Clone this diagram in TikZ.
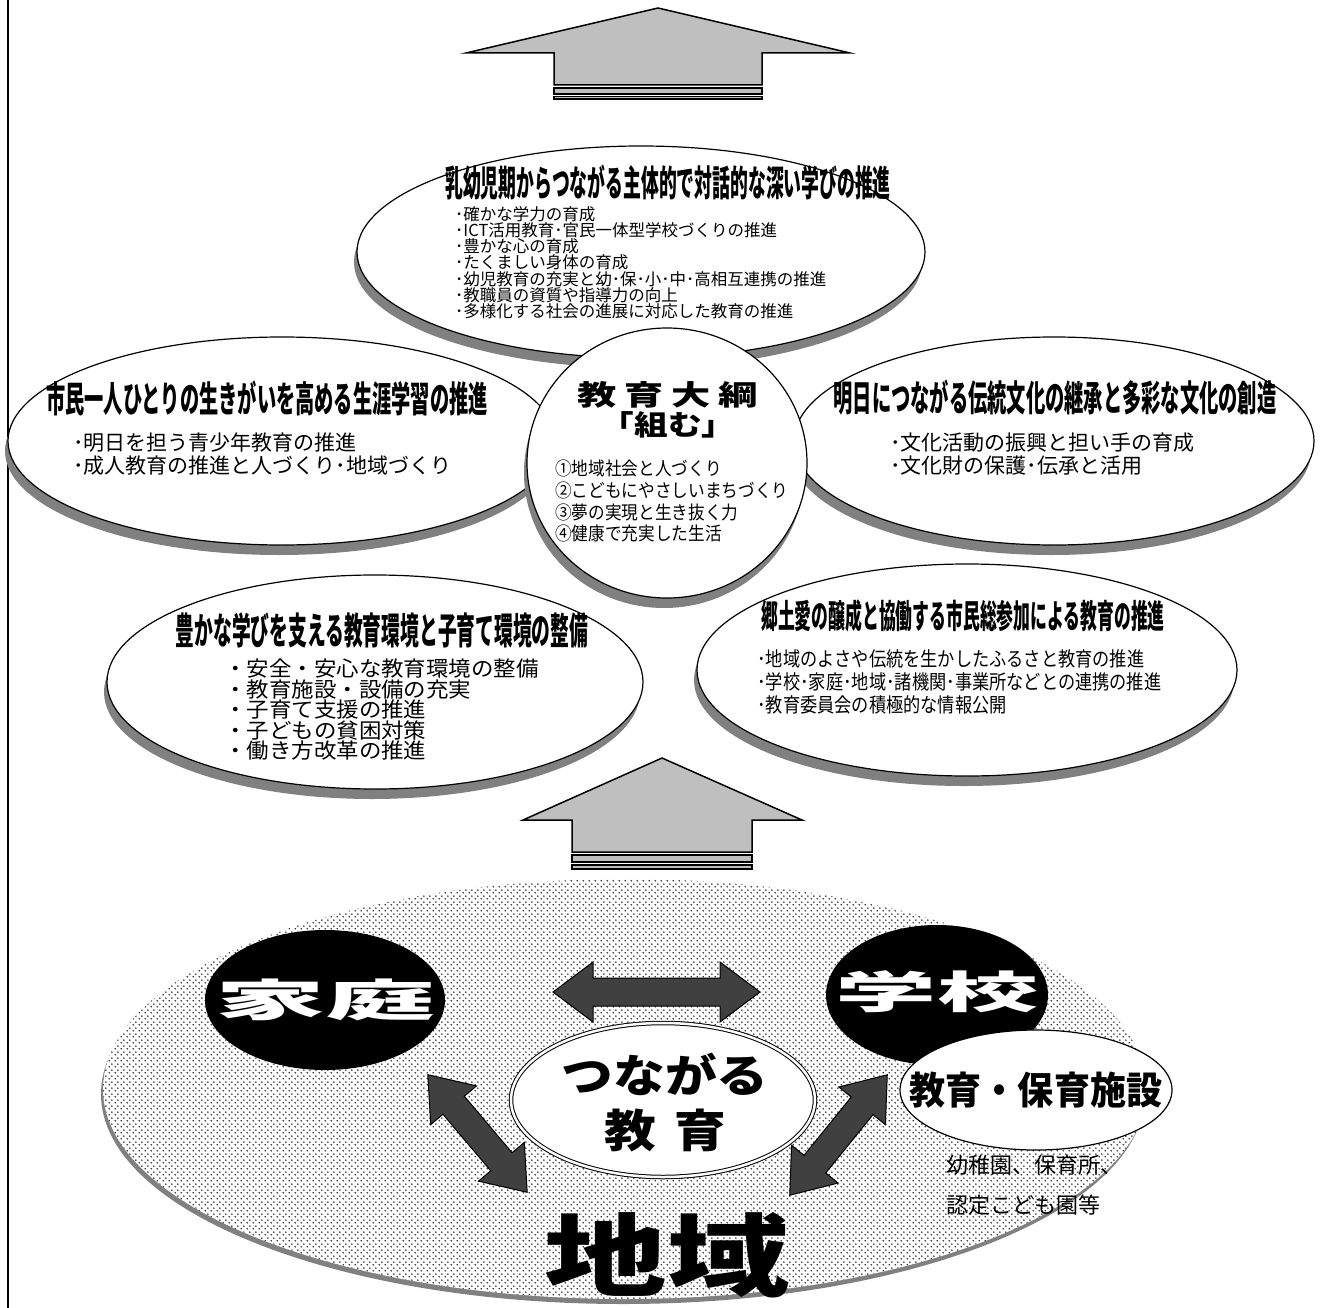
\documentclass[tikz,border=0pt]{standalone}
\usepackage{fontspec}
\usepackage{graphicx}
\setmainfont{Noto Sans CJK JP}
\usetikzlibrary{shapes.geometric,shadows,patterns.meta}
\definecolor{shgray}{gray}{0.5}
\definecolor{arrgray}{gray}{0.75}
\definecolor{darkarr}{gray}{0.25}
\definecolor{dotcol}{gray}{0.2}
\tikzdeclarepattern{
  name=dotgrid,
  type=uncolored,
  bounding box={(0pt,0pt) and (6pt,6pt)},
  tile size={(6pt,6pt)},
  code={
    \pgfpathcircle{\pgfpoint{1.5pt}{1.5pt}}{1.05pt}
    \pgfpathcircle{\pgfpoint{4.5pt}{4.5pt}}{1.05pt}
    \pgfusepath{fill}
  }
}
\newcommand\fatdbl[4]{%
  \begin{scope}[shift={(#1,#2)},rotate=#3]
    \draw[dblarr] (-#4,0) -- (-#4+40,-30) -- (-#4+40,-14) -- (#4-40,-14) -- (#4-40,-30) -- (#4,0) -- (#4-40,30) -- (#4-40,14) -- (-#4+40,14) -- (-#4+40,30) -- cycle;
  \end{scope}}
\newcommand\xs[2]{\scalebox{#1}[1]{#2}}
\begin{document}
\begin{tikzpicture}[x=1pt,y=-1pt,
  bub/.style={ellipse, draw=black, line width=1.2pt, fill=white, inner sep=0pt,
    drop shadow={shadow xshift=-3pt, shadow yshift=-10pt, fill=shgray, opacity=1}},
  bigarr/.style={draw=black, line width=1.5pt, fill=arrgray, line join=miter},
  stripe/.style={draw=black, line width=1.2pt, fill=arrgray},
  dblarr/.style={draw=black, line width=1pt, fill=darkarr, line join=miter},
  ttl/.style={inner sep=0pt, font=\bfseries\fontsize{36}{36}\selectfont},
  blt/.style={inner sep=0pt, anchor=west},
]
\useasboundingbox (0,0) rectangle (1322,1308);
\fill[white] (0,0) rectangle (1322,1308);
\draw[line width=2pt] (8,0) -- (8,1308);

% top arrow
\draw[bigarr] (658,8) -- (850,53) -- (762,53) -- (762,85) -- (554,85) -- (554,53) -- (466,53) -- cycle;
\draw[stripe] (554,88) rectangle (762,94);
\draw[stripe] (554,96.5) rectangle (762,99);

% ellipses
\node[bub, minimum width=568pt, minimum height=212pt] (top) at (641,252) {};
\node[bub, minimum width=548pt, minimum height=208pt] (left) at (282,441) {};
\node[bub, minimum width=520pt, minimum height=208pt] (right) at (1054,441) {};
\node[bub, minimum width=536pt, minimum height=214pt] (bl) at (375,682) {};
\node[bub, minimum width=540pt, minimum height=212pt] (br) at (967,670) {};
\node[bub, minimum width=280pt, minimum height=270pt] (ctr) at (667,463) {};

% top ellipse text
\node[ttl] (ttop) at (668,183) {\xs{0.495}{乳幼児期からつながる主体的で対話的な深い学びの推進}};
\begin{scope}[every node/.style={blt, font=\fontsize{16.5}{16.5}\selectfont}]
\node (tb1) at (455,214) {･確かな学力の育成};
\node (tb2) at (455,230.2) {･ICT活用教育･官民一体型学校づくりの推進};
\node (tb3) at (455,246.4) {･豊かな心の育成};
\node (tb4) at (455,262.6) {･たくましい身体の育成};
\node (tb5) at (455,278.8) {･幼児教育の充実と幼･保･小･中･高相互連携の推進};
\node (tb6) at (455,295) {･教職員の資質や指導力の向上};
\node (tb7) at (455,311.2) {･多様化する社会の進展に対応した教育の推進};
\end{scope}

% left ellipse text
\node[ttl] (tleft) at (267,398) {\xs{0.534}{市民一人ひとりの生きがいを高める生涯学習の推進}};
\begin{scope}[every node/.style={blt, font=\fontsize{21}{21}\selectfont}]
\node (lb1) at (73,443) {･明日を担う青少年教育の推進};
\node (lb2) at (73,466) {･成人教育の推進と人づくり･地域づくり};
\end{scope}

% right ellipse text
\node[ttl] (tright) at (1055,398) {\xs{0.535}{明日につながる伝統文化の継承と多彩な文化の創造}};
\begin{scope}[every node/.style={blt, font=\fontsize{21}{21}\selectfont}]
\node (rb1) at (890,443) {･文化活動の振興と担い手の育成};
\node (rb2) at (890,466) {･文化財の保護･伝承と活用};
\end{scope}

% bottom-left text
\node[ttl, font=\bfseries\fontsize{37}{37}\selectfont] (tbl) at (382,630) {\xs{0.507}{豊かな学びを支える教育環境と子育て環境の整備}};
\begin{scope}[every node/.style={blt, font=\fontsize{21}{21}\selectfont}]
\node (bl1) at (224,669) {\xs{1.07}{・安全・安心な教育環境の整備}};
\node (bl2) at (224,689.5) {\xs{1.07}{・教育施設・設備の充実}};
\node (bl3) at (224,710) {\xs{1.07}{・子育て支援の推進}};
\node (bl4) at (224,730.5) {\xs{1.07}{・子どもの貧困対策}};
\node (bl5) at (224,751) {\xs{1.07}{・働き方改革の推進}};
\end{scope}

% bottom-right text
\node[ttl, font=\bfseries\fontsize{33}{33}\selectfont] (tbr) at (963,616) {\xs{0.51}{郷土愛の醸成と協働する市民総参加による教育の推進}};
\begin{scope}[every node/.style={blt, font=\fontsize{20}{20}\selectfont}]
\node (br1) at (757,659) {\xs{0.86}{･地域のよさや伝統を生かしたふるさと教育の推進}};
\node (br2) at (757,682) {\xs{0.86}{･学校･家庭･地域･諸機関･事業所などとの連携の推進}};
\node (br3) at (757,705) {\xs{0.86}{･教育委員会の積極的な情報公開}};
\end{scope}

% center text
\node[inner sep=0pt, font=\bfseries\fontsize{28}{28}\selectfont] (c1) at (668,395) {\xs{1.4}{教\hspace{0.2em}育\hspace{0.2em}大\hspace{0.2em}綱}};
\node[inner sep=0pt, font=\bfseries\fontsize{28}{28}\selectfont] (c2) at (668,425) {\xs{1.2}{「組む」}};
\begin{scope}[every node/.style={blt, font=\fontsize{18.5}{18.5}\selectfont}]
\node (ci1) at (555,468) {\xs{0.9}{①地域社会と人づくり}};
\node (ci2) at (555,490) {\xs{0.9}{②こどもにやさしいまちづくり}};
\node (ci3) at (555,512) {\xs{0.9}{③夢の実現と生き抜く力}};
\node (ci4) at (555,533) {\xs{0.9}{④健康で充実した生活}};
\end{scope}

% bottom arrow
\draw[bigarr] (662,758) -- (802,820) -- (752,820) -- (752,852) -- (572,852) -- (572,820) -- (523,820) -- cycle;
\draw[stripe] (572,855) rectangle (752,862);
\draw[stripe] (572,865) rectangle (752,869);

% bottom region
\node[ellipse, fill=white, minimum width=1044pt, minimum height=420pt, inner sep=0pt,
  drop shadow={shadow xshift=-2pt, shadow yshift=-5pt, fill=shgray, opacity=1}] (chiiki) at (625,1089) {};
\fill[pattern=dotgrid, pattern color=dotcol] (chiiki.center) ellipse [x radius=522pt, y radius=210pt];

\node[ellipse, fill=black, minimum width=240pt, minimum height=140pt, inner sep=0pt] (katei) at (325,1000) {};
\node[font=\bfseries\fontsize{44}{44}\selectfont, text=white, inner sep=0pt] (kateit) at (katei.center) {\xs{2.5}{家庭}};
\node[ellipse, fill=black, minimum width=222pt, minimum height=140pt, inner sep=0pt] (gakko) at (937,995) {};
\node[font=\bfseries\fontsize{44}{44}\selectfont, text=white, inner sep=0pt] (gakkot) at (937,992) {\xs{2.3}{学校}};
\node[ellipse, draw=black, line width=1.2pt, fill=white, minimum width=272pt, minimum height=120pt, inner sep=0pt] (shisetsu) at (1036,1090) {};
\node[font=\bfseries\fontsize{38}{38}\selectfont, inner sep=0pt] (shisetsut) at (shisetsu.center) {\xs{0.95}{教育・保育施設}};

\node[ellipse, draw=black, line width=1pt, double, double distance=2.5pt, fill=white, minimum width=304pt, minimum height=154pt, inner sep=0pt] (tsunagaru) at (663,1100) {};
\node[font=\bfseries\fontsize{45}{45}\selectfont, inner sep=0pt] (tsu1) at (665,1074) {\xs{1.15}{つながる}};
\node[font=\bfseries\fontsize{45}{45}\selectfont, inner sep=0pt] (tsu2) at (665,1130) {\xs{1.15}{教\hspace{0.35em}育}};

\fatdbl{656.5}{992}{0}{103.5}
\fatdbl{477.5}{1133.5}{-49.8}{77}
\fatdbl{838.5}{1135}{51}{77.5}

\node[font=\bfseries\fontsize{90}{90}\selectfont, inner sep=0pt] (chiikit) at (667,1255) {\xs{1.36}{地域}};
\node[blt, font=\fontsize{22}{22}\selectfont] (en1) at (946,1165) {幼稚園、保育所、};
\node[blt, font=\fontsize{22}{22}\selectfont] (en2) at (946,1205) {認定こども園等};
\end{tikzpicture}
\end{document}
